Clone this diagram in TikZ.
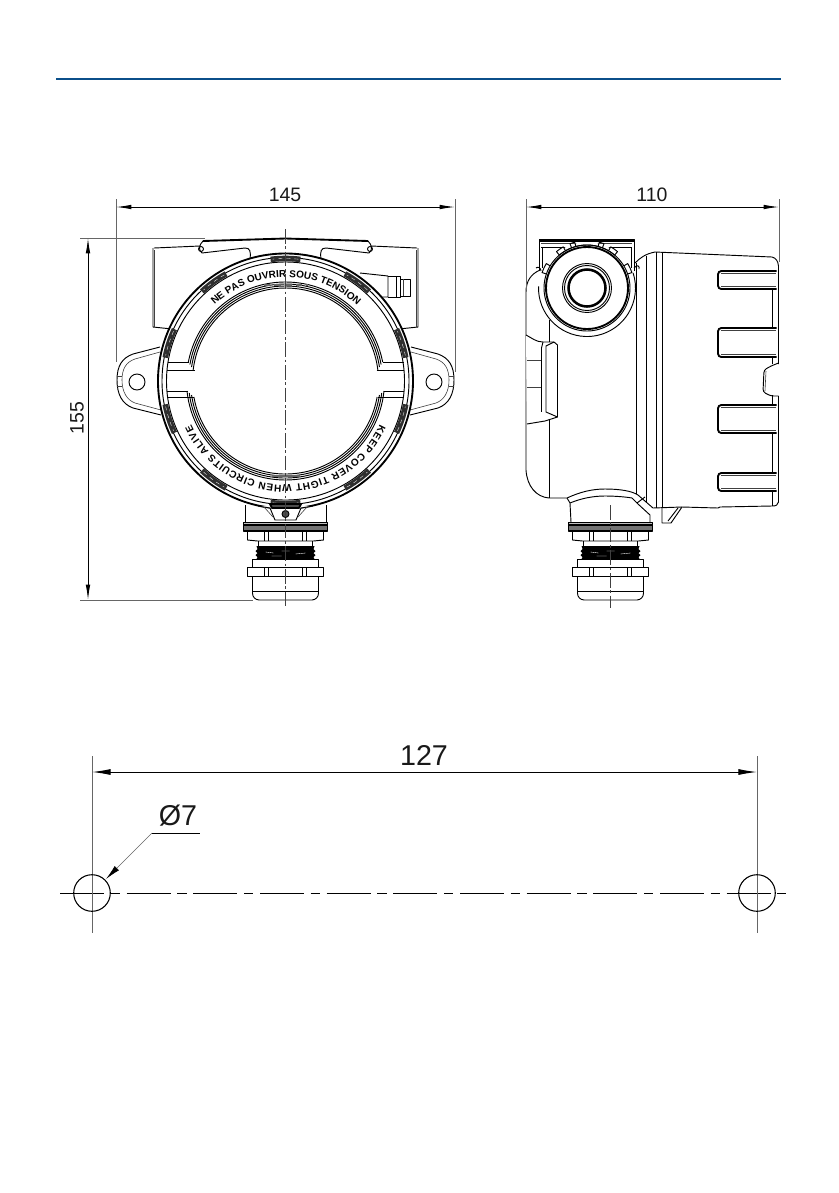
\documentclass[tikz,border=0pt]{standalone}
\usepackage{fontspec}
\setmainfont{Liberation Sans}
\usetikzlibrary{arrows.meta,decorations.text}
\definecolor{rulecol}{HTML}{0B4F8A}
\tikzset{
  part/.style={draw=black,line width=0.7pt,line join=round},
  heavy/.style={draw=black,line width=1.4pt,line join=round},
  fine/.style={draw=black!75,line width=0.45pt},
  ext/.style={draw=black!60,line width=0.5pt},
  axis/.style={draw=black!75,line width=0.4pt,dash pattern=on 11pt off 2pt on 2pt off 2pt},
  dim/.style={draw=black,line width=0.7pt,{Latex[length=11.5pt,width=3.4pt]}-{Latex[length=11.5pt,width=3.4pt]}},
  lbl/.style={inner sep=0pt,text=black!90},
  grip/.style={draw=black!82,line width=4.2pt},
  band/.style={decorate,decoration={text along path,text align=fit to path,
     text={|\bfseries\fontsize{7.5}{8}\selectfont|#1}}}
}
% half of the front view, drawn for the left and mirrored for the right
\newcommand{\frontear}{%
  \draw[part,fill=white] (160,347) -- (133,354) .. controls (122,358) and (117,366) .. (117,380)
     .. controls (117,394) and (122,404) .. (133,408) -- (161,415);
  \draw[fine] (160,352) -- (135,359) .. controls (126,362) and (122,369) .. (122,380)
     .. controls (122,392) and (127,400) .. (135,403) -- (161,410);
  \draw[fine] (117,376) -- (122,376) (117,386) -- (122,386);
  \draw[part] (137,382) circle[radius=8];
  \draw[part] (154,248) -- (200,246);
  \draw[part] (153,248) -- (153,327) -- (172,329);
  \draw[fine] (154.5,250) -- (154.5,327);
  \draw[heavy] (203,241) -- (285.5,238.5);
  \draw[part] (203,241) .. controls (199,245) and (198,250) .. (202,253) -- (245,248)
     .. controls (250,248) and (251,251) .. (250,259);
  \draw[part] (201,249) circle[radius=2.5];
}
\newcommand{\gland}[2]{% #1 = centre x, #2 = first element y
  \begin{scope}[shift={(#1,0)}]
    \draw[part,fill=black!25] (-42,522) rectangle (42,525);
    \draw[heavy,fill=black!55] (-42,525) rectangle (42,531);
    \draw[part] (-38,531) -- (-38,540) -- (-28,541) -- (28,541) -- (38,540) -- (38,531);
    \draw[part] (-21,531) -- (-21,541) (-17,531) -- (-17,541) (17,531) -- (17,541) (21,531) -- (21,541);
    \draw[part] (-27,541) -- (-27,546) -- (27,546) -- (27,541);
    \fill[black] (-29,546) -- (-28,549) -- (-30,551) -- (-28,553) -- (-30,555) -- (-28,557) -- (-29,559)
       -- (29,559) -- (28,557) -- (30,555) -- (28,553) -- (30,551) -- (28,549) -- (29,546) -- cycle;
    \draw[white,line width=0.25pt] (-20,552) -- (-12,553) (-4,551) -- (4,551) (10,554) -- (20,553) (-14,556) -- (-4,556);
    \draw[part] (-33,559) rectangle (33,567);
    \draw[part] (-38,567) rectangle (38,576);
    \draw[part] (-21,567) -- (-21,576) (-17,567) -- (-17,576) (17,567) -- (17,576) (21,567) -- (21,576);
    \draw[part,rounded corners=5pt] (-33,576) -- (-33,600) -- (33,600) -- (33,576);
    \draw[part] (-33,591) -- (33,591);
  \end{scope}
}
\newcommand{\pocket}[2]{% #1 top y, #2 bottom y
  \draw[heavy,rounded corners=2.5pt] (776.5,#1) -- (718,#1) -- (718,#2) -- (776.5,#2);
  \draw[fine] (721,#1+2.5) -- (776,#1+2.5);
  \draw[fine] (721,#2-2.5) -- (776,#2-2.5);
}
\begin{document}
\begin{tikzpicture}[x=0.75pt,y=-0.75pt]
\useasboundingbox (0,0) rectangle (839,1193);
\fill[white] (0,0) rectangle (839,1193);

% header rule
\coordinate (ruleL) at (56,79); \coordinate (ruleR) at (781,79);
\draw[rulecol,line width=1.5pt] (ruleL) -- (ruleR);

% ---------------- front view ----------------
\coordinate (fc) at (285.5,381);
\frontear
\begin{scope}[shift={(571,0)},xscale=-1]\frontear\end{scope}
% connector stub on the back box
\draw[part] (360,273) -- (388,276) -- (388,297) -- (379,297);
\draw[part] (396,276) -- (396,297);
\draw[part] (388,276) -- (400,276) -- (400,297) -- (388,297);
\draw[part] (400,279) -- (410,279) -- (410,296) -- (400,296);
\draw[fine] (403,279) -- (403,296);

\gland{285.5}{522}
\draw[part] (245,505) -- (245,522) (326,505) -- (326,522);

\begin{scope}[shift={(fc)},x=0.75pt,y=0.75pt]
  \fill[white] (0,0) circle[radius=127];
  \draw[heavy] (0,0) circle[radius=127.5];
  \draw[part] (0,0) circle[radius=123.5];
  \draw[part] (0,0) circle[radius=119];
  \foreach \ang in {18,54,90,126,162,198,234,270,306,342}{
    \draw[grip] (\ang-7:122.5) arc[start angle=\ang-7,end angle=\ang+7,radius=122.5];
    \draw[white,line width=0.25pt,dashed] (\ang-6:122.5) arc[start angle=\ang-6,end angle=\ang+6,radius=122.5];
  }
  % window rim
  \foreach \rr/\up/\lo in {93/11/16,95/14/14,97/16.5/12,99/19/10}{
    \pgfmathsetmacro\au{asin(\up/\rr)}
    \pgfmathsetmacro\al{asin(\lo/\rr)}
    \draw[part] (180-\au:\rr) arc[start angle=180-\au,end angle=\au,radius=\rr];
    \draw[part] (180+\al:\rr) arc[start angle=180+\al,end angle=360-\al,radius=\rr];
  }
  \foreach \sx in {-1,1}{
    \draw[part] (\sx*97,19) -- (\sx*118,19);
    \draw[part] (\sx*91,11) -- (\sx*118.5,11);
    \draw[part] (\sx*98,-10) -- (\sx*118.5,-10);
    \draw[part] (\sx*92,-16) -- (\sx*118,-16);
  }
  \draw[black!60,line width=1.2pt,dash pattern=on 5pt off 3pt] (-22,96) -- (22,96);
  \draw[black!60,line width=1.2pt] (-14,-95) -- (14,-95);
  % lettering round the band
  \path[band={NE PAS OUVRIR SOUS TENSION}] (133:104) arc[start angle=133,end angle=47,radius=104];
  \path[band={KEEP COVER TIGHT WHEN CIRCUITS ALIVE}] (-25:104) arc[start angle=-25,end angle=-155,radius=104];
\end{scope}
% screw lug at the bottom of the ring
\draw[part,fill=white] (258,506) -- (270,508) -- (275,520) -- (296,520) -- (301,508) -- (313,506);
\draw[fine] (264,507) -- (273,517) (307,507) -- (298,517);
\draw[heavy,fill=black!70] (270,504) -- (301,504) -- (299,508) -- (272,508) -- cycle;
\draw[part,fill=black!70] (285.5,514) circle[radius=3.5];

\coordinate (fa1) at (285.5,229); \coordinate (fa2) at (285.5,608);
\draw[axis] (fa1) -- (fa2);

% ---------------- side view ----------------
\coordinate (sc) at (587,288);
% body outline
\draw[part] (540,270) .. controls (531,274) and (526,281) .. (526,292) -- (526,470)
   .. controls (527,486) and (536,497) .. (549,498) -- (567,498)
   .. controls (580,492) and (592,489) .. (605,489) .. controls (620,489) and (632,491) .. (638,495)
   -- (653,508) -- (682,507) -- (718,508) -- (720,507) -- (772,506)
   .. controls (776,506) and (778,505) .. (778.5,502) -- (778.5,396);
\draw[part] (635,263) .. controls (640,258) and (645,254) .. (655,252) -- (772,257)
   .. controls (776,258) and (778,261) .. (778.5,266) -- (778.5,364);
\draw[part] (636,263) -- (636,494);
\draw[part] (646,256) -- (646,503);
\draw[part] (656,252) -- (656,508);
\draw[part] (662,253) -- (662,508);
\draw[part] (549,320) -- (549,498);
% neck
\draw[part] (570,503) .. controls (582,498) and (594,496) .. (605,496) .. controls (616,496) and (626,497) .. (632,498);
\draw[part] (632,498) -- (638,504) -- (650,515) -- (650,522);
\draw[part] (637,503) -- (645,497);
\draw[part] (567,498) -- (570,503) -- (571,522);
\gland{610.5}{522}
\coordinate (sa1) at (610.5,505); \coordinate (sa2) at (610.5,608);
\draw[axis] (sa1) -- (sa2);
% bottom tab
\draw[part] (662,508) -- (662,523) -- (671,523) -- (682,507);
\draw[part] (668,521) -- (678,508);
% pockets
\pocket{271}{289}
\pocket{328}{357}
\pocket{405}{433}
\pocket{473}{491}
\draw[part] (772.5,289) -- (772.5,328) (772.5,357) -- (772.5,364) (772.5,395) -- (772.5,405)
   (772.5,433) -- (772.5,473) (772.5,491) -- (772.5,506);
% notch
\draw[part,rounded corners=2pt] (778.5,363) -- (771,366) -- (764,370) -- (763,392) -- (771,396) -- (778.5,396);
\draw[fine] (766,371) -- (765,391);
% top clip
\draw[part,fill=white] (539,271) -- (539,239) -- (634,239) -- (634,271);
\draw[heavy] (539,241) -- (634,241);
\draw[part] (541,247) -- (632,247);
\draw[fine] (541,243.5) -- (632,243.5);
\draw[part] (542,247) -- (542,268) (631,247) -- (631,268);
% head circles
\begin{scope}[shift={(sc)},x=0.75pt,y=0.75pt]
  \fill[white] (0,0) circle[radius=46];
  \draw[part] (178:48.5) arc[start angle=178,end angle=378,radius=48.5];
  \draw[part] (0,0) circle[radius=43];
  \draw[heavy] (0,0) circle[radius=41];
  \draw[part] (0,0) circle[radius=24.5];
  \draw[part] (0,0) circle[radius=22.5];
  \draw[line width=1.9pt,black] (0,0) circle[radius=18.5];
  \draw[part] (130:43) arc[start angle=130,end angle=50,radius=43];
  \foreach \ang/\w in {155/6,125/5,108/3,72/3,55/5,25/6}{
    \draw[part] (\ang+\w:43) -- (\ang+\w:47.5) arc[start angle=\ang+\w,end angle=\ang-\w,radius=47.5] -- (\ang-\w:43);
  }
  \draw[part] (100:47.5) arc[start angle=100,end angle=80,radius=47.5];
\end{scope}
\draw[part] (536,268) .. controls (538,266) and (541,268) .. (541,271);
\draw[part] (634,268) .. controls (637,264) and (640,266) .. (639,269);
% side grip
\draw[part,fill=white] (526,335) .. controls (532,338) and (536,342) .. (543,342) -- (554,342) -- (557.5,345)
   -- (557.5,417) -- (545,421) -- (527,424);
\draw[part] (541.5,348) -- (541.5,412);
\draw[part] (543,342) -- (541.5,348) (554,342) -- (546,346) -- (546,412) -- (557.5,417);
\draw[fine] (527,360) -- (541,360) (527,387) -- (541,387);

% ---------------- dimensions, top ----------------
\coordinate (d145L) at (116,207); \coordinate (d145R) at (455,207);
\coordinate (e145La) at (116,199); \coordinate (e145Lb) at (116,362);
\coordinate (e145Ra) at (455,199); \coordinate (e145Rb) at (455,372);
\draw[ext] (e145La) -- (e145Lb) (e145Ra) -- (e145Rb);
\draw[dim] (d145L) -- (d145R);
\node[lbl,font=\fontsize{14.6}{16}\selectfont] (t145) at (285,195) {145};

\coordinate (d155T) at (88,238); \coordinate (d155B) at (88,600);
\coordinate (e155Ta) at (80,238); \coordinate (e155Tb) at (205,238);
\coordinate (e155Ba) at (80,600); \coordinate (e155Bb) at (253,600);
\draw[ext] (e155Ta) -- (e155Tb) (e155Ba) -- (e155Bb);
\draw[dim] (d155T) -- (d155B);
\node[lbl,font=\fontsize{14.6}{16}\selectfont,rotate=90] (t155) at (77,418) {155};

\coordinate (d110L) at (526,207); \coordinate (d110R) at (779,207);
\coordinate (e110La) at (526,199); \coordinate (e110Lb) at (526,290);
\coordinate (e110Ra) at (779,199); \coordinate (e110Rb) at (779,262);
\draw[ext] (e110La) -- (e110Lb) (e110Ra) -- (e110Rb);
\draw[dim] (d110L) -- (d110R);
\node[lbl,font=\fontsize{14.6}{16}\selectfont] (t110) at (652,195) {110};

% ---------------- hole pattern ----------------
\coordinate (h1) at (92,893); \coordinate (h2) at (757,893);
\coordinate (ca) at (60,893); \coordinate (cb) at (786,893);
\draw[draw=black,line width=0.7pt,dash pattern=on 33pt off 5pt on 7pt off 5pt] (ca) -- (cb);
\coordinate (v1a) at (92,756); \coordinate (v1b) at (92,933);
\coordinate (v2a) at (757,756); \coordinate (v2b) at (757,933);
\draw[ext] (v1a) -- (v1b) (v2a) -- (v2b);
\draw[part,line width=0.8pt] (h1) circle[radius=18.3];
\draw[part,line width=0.8pt] (h2) circle[radius=18.3];
\coordinate (d127L) at (92,772); \coordinate (d127R) at (757,772);
\draw[draw=black,line width=0.75pt,{Latex[length=14pt,width=4.5pt]}-{Latex[length=14pt,width=4.5pt]}] (d127L) -- (d127R);
\node[lbl,font=\fontsize{21.5}{24}\selectfont] (t127) at (424,755) {127};
\node[lbl,font=\fontsize{21.5}{24}\selectfont] (t7) at (178,816) {Ø7};
\coordinate (u1) at (152,833); \coordinate (u2) at (200,833); \coordinate (lt) at (106,879);
\draw[draw=black,line width=0.7pt] (u1) -- (u2);
\draw[draw=black!60,line width=0.45pt,-{Latex[length=11.5pt,width=4.5pt,black]}] (u1) -- (lt);
\end{tikzpicture}
\end{document}
